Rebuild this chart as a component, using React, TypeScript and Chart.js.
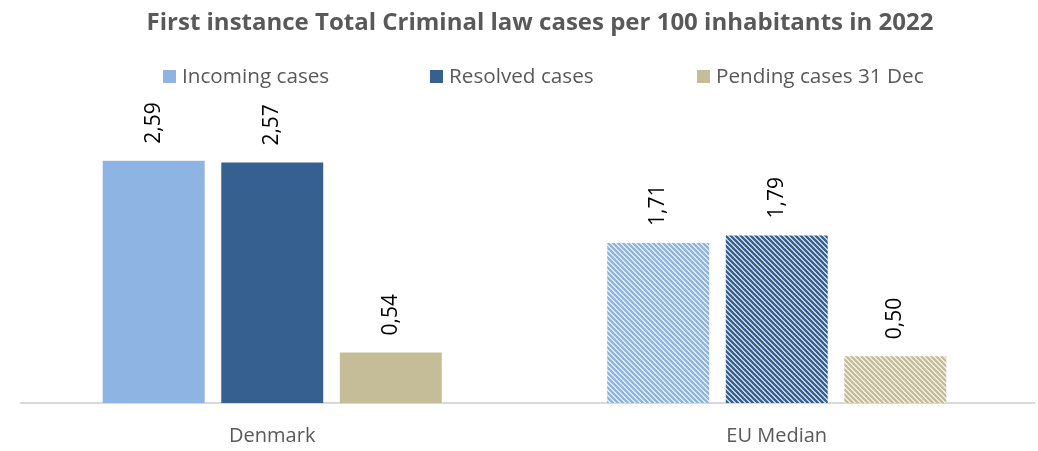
import React, { useEffect, useRef } from "react";
import { Chart, registerables } from "chart.js";

Chart.register(...registerables);

const title = "First instance Total Criminal law cases per 100 inhabitants in 2022";
const categories = ["Denmark", "EU Median"];
const seriesLabels = ["Incoming cases", "Resolved cases", "Pending cases 31 Dec"];
const incoming = [2.59, 1.71];
const resolved = [2.57, 1.79];
const pending = [0.54, 0.5];
const seriesColors = ["#8eb4e3", "#35608f", "#c4bd97"];

const FONT = "'Open Sans', Lato, sans-serif";

function hatch(color: string): CanvasPattern | string {
  const c = document.createElement("canvas");
  const n = 5;
  c.width = n;
  c.height = n;
  const x = c.getContext("2d");
  if (!x) return color;
  x.fillStyle = "#ffffff";
  x.fillRect(0, 0, n, n);
  x.strokeStyle = color;
  x.lineWidth = 2.6;
  x.beginPath();
  for (const k of [-n, 0, n]) {
    x.moveTo(k - 1, -1);
    x.lineTo(k + n + 1, n + 1);
  }
  x.stroke();
  return x.createPattern(c, "repeat") || color;
}

const fmt = (v: number) => v.toFixed(2).replace(".", ",");

const overlayPlugin = {
  id: "overlay",
  beforeDatasetsDraw(chart: any) {
    const ctx = chart.ctx as CanvasRenderingContext2D;
    const y = chart.chartArea.bottom;
    ctx.save();
    ctx.strokeStyle = "#d9d9d9";
    ctx.lineWidth = 2;
    ctx.beginPath();
    ctx.moveTo(chart.chartArea.left, y);
    ctx.lineTo(chart.chartArea.right + 6, y);
    ctx.stroke();
    ctx.restore();
  },
  afterDatasetsDraw(chart: any) {
    const ctx = chart.ctx as CanvasRenderingContext2D;
    // data labels
    chart.data.datasets.forEach((ds: any, di: number) => {
      const meta = chart.getDatasetMeta(di);
      meta.data.forEach((bar: any, i: number) => {
        ctx.save();
        ctx.translate(bar.x, bar.y - 17);
        ctx.rotate(-Math.PI / 2);
        ctx.font = `21px ${FONT}`;
        ctx.fillStyle = "#000000";
        ctx.textAlign = "left";
        ctx.textBaseline = "middle";
        ctx.fillText(fmt(ds.data[i]), 0, 0);
        ctx.restore();
      });
    });
    // title
    ctx.save();
    ctx.font = `bold 24px ${FONT}`;
    ctx.fillStyle = "#595959";
    ctx.textAlign = "center";
    ctx.textBaseline = "middle";
    ctx.fillText(title, 540, 23);
    // legend
    ctx.font = `20.7px ${FONT}`;
    ctx.textAlign = "left";
    seriesLabels.forEach((lab, i) => {
      const x0 = 163 + i * 267;
      ctx.fillStyle = seriesColors[i];
      ctx.fillRect(x0, 70, 13, 13);
      ctx.fillStyle = "#595959";
      ctx.fillText(lab, x0 + 19, 77);
    });
    ctx.restore();
  },
};

export default function App() {
  const ref = useRef<HTMLCanvasElement>(null);
  useEffect(() => {
    if (!ref.current) return;
    const values = [incoming, resolved, pending];
    const chart = new Chart(ref.current, {
      type: "bar",
      data: {
        labels: categories,
        datasets: seriesLabels.map((lab, i) => ({
          label: lab,
          data: values[i],
          backgroundColor: [seriesColors[i], hatch(seriesColors[i])] as any,
          borderWidth: 0,
          categoryPercentage: 0.705,
          barPercentage: 0.86,
        })),
      },
      options: {
        animation: false,
        responsive: true,
        maintainAspectRatio: false,
        layout: { padding: { top: 99, left: 20, right: 9, bottom: 0 } },
        plugins: {
          legend: { display: false },
          title: { display: false },
          tooltip: { enabled: false },
        },
        scales: {
          y: { display: false, min: 0, max: 3.25 },
          x: {
            grid: { display: false, drawTicks: false },
            border: { display: false },
            ticks: {
              color: "#595959",
              font: { family: FONT, size: 20 },
              padding: 21,
            },
            afterFit: (s: any) => {
              s.height = 48;
            },
          },
        },
      },
      plugins: [overlayPlugin],
    });
    return () => chart.destroy();
  }, []);
  return (
    <div style={{ position: "fixed", left: 0, top: 0, width: 1038, height: 451, background: "#fff" }}>
      <canvas ref={ref} />
    </div>
  );
}
